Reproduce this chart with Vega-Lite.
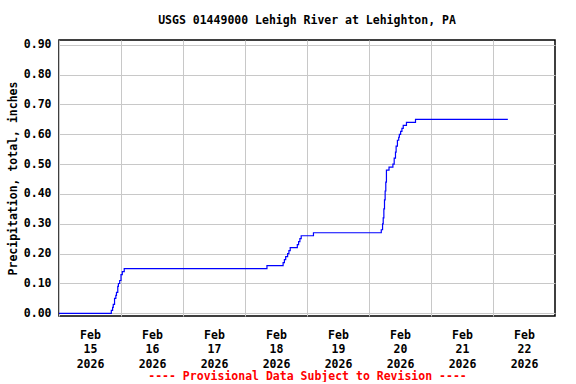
{
  "$schema": "https://vega.github.io/schema/vega-lite/v6.json",
  "width": 496,
  "height": 276,
  "padding": {"left": 7, "top": 15, "right": 20, "bottom": 0},
  "background": "white",
  "config": {
    "font": "DejaVu Sans Mono",
    "view": {"stroke": "black", "strokeWidth": 1.5},
    "axis": {"labelFont": "DejaVu Sans Mono", "labelFontWeight": "bold", "labelFontSize": 11.5, "labelColor": "black", "titleFont": "DejaVu Sans Mono", "titleFontWeight": "bold", "titleFontSize": 11.5, "gridColor": "#c8c8c8", "gridOpacity": 1, "gridWidth": 1, "ticks": false, "domain": false}
  },
  "title": {"text": "USGS 01449000 Lehigh River at Lehighton, PA", "font": "DejaVu Sans Mono", "fontWeight": "bold", "fontSize": 11.5, "color": "black", "anchor": "middle", "frame": "group", "offset": 12},
  "data": {"values": [
    {"t": "2026-02-15T00:00Z", "v": 0.00},
    {"t": "2026-02-15T20:15Z", "v": 0.01},
    {"t": "2026-02-15T20:45Z", "v": 0.02},
    {"t": "2026-02-15T21:00Z", "v": 0.03},
    {"t": "2026-02-15T21:30Z", "v": 0.05},
    {"t": "2026-02-15T22:00Z", "v": 0.06},
    {"t": "2026-02-15T22:15Z", "v": 0.07},
    {"t": "2026-02-15T22:45Z", "v": 0.09},
    {"t": "2026-02-15T23:00Z", "v": 0.10},
    {"t": "2026-02-15T23:30Z", "v": 0.11},
    {"t": "2026-02-16T00:00Z", "v": 0.13},
    {"t": "2026-02-16T00:30Z", "v": 0.14},
    {"t": "2026-02-16T01:15Z", "v": 0.15},
    {"t": "2026-02-18T08:30Z", "v": 0.16},
    {"t": "2026-02-18T14:45Z", "v": 0.17},
    {"t": "2026-02-18T15:15Z", "v": 0.18},
    {"t": "2026-02-18T15:45Z", "v": 0.19},
    {"t": "2026-02-18T16:30Z", "v": 0.20},
    {"t": "2026-02-18T17:00Z", "v": 0.21},
    {"t": "2026-02-18T17:30Z", "v": 0.22},
    {"t": "2026-02-18T20:15Z", "v": 0.23},
    {"t": "2026-02-18T20:45Z", "v": 0.24},
    {"t": "2026-02-18T21:15Z", "v": 0.25},
    {"t": "2026-02-18T21:45Z", "v": 0.26},
    {"t": "2026-02-19T02:30Z", "v": 0.27},
    {"t": "2026-02-20T04:45Z", "v": 0.28},
    {"t": "2026-02-20T05:15Z", "v": 0.30},
    {"t": "2026-02-20T05:30Z", "v": 0.32},
    {"t": "2026-02-20T05:45Z", "v": 0.35},
    {"t": "2026-02-20T06:00Z", "v": 0.38},
    {"t": "2026-02-20T06:15Z", "v": 0.41},
    {"t": "2026-02-20T06:30Z", "v": 0.44},
    {"t": "2026-02-20T06:45Z", "v": 0.48},
    {"t": "2026-02-20T07:45Z", "v": 0.49},
    {"t": "2026-02-20T09:15Z", "v": 0.50},
    {"t": "2026-02-20T09:45Z", "v": 0.52},
    {"t": "2026-02-20T10:15Z", "v": 0.54},
    {"t": "2026-02-20T10:30Z", "v": 0.56},
    {"t": "2026-02-20T11:00Z", "v": 0.58},
    {"t": "2026-02-20T11:30Z", "v": 0.59},
    {"t": "2026-02-20T11:45Z", "v": 0.60},
    {"t": "2026-02-20T12:15Z", "v": 0.61},
    {"t": "2026-02-20T12:45Z", "v": 0.62},
    {"t": "2026-02-20T13:15Z", "v": 0.63},
    {"t": "2026-02-20T14:30Z", "v": 0.64},
    {"t": "2026-02-20T18:00Z", "v": 0.65},
    {"t": "2026-02-22T05:45Z", "v": 0.65}
  ]},
  "mark": {"type": "line", "interpolate": "step-after", "color": "#0000ff", "strokeWidth": 1.2},
  "encoding": {
    "x": {
      "field": "t", "type": "temporal",
      "scale": {"type": "utc", "domain": [{"year": 2026, "month": 2, "date": 15, "utc": true}, {"year": 2026, "month": 2, "date": 23, "utc": true}]},
      "axis": {
        "values": [
          {"year": 2026, "month": 2, "date": 15, "utc": true},
          {"year": 2026, "month": 2, "date": 16, "utc": true},
          {"year": 2026, "month": 2, "date": 17, "utc": true},
          {"year": 2026, "month": 2, "date": 18, "utc": true},
          {"year": 2026, "month": 2, "date": 19, "utc": true},
          {"year": 2026, "month": 2, "date": 20, "utc": true},
          {"year": 2026, "month": 2, "date": 21, "utc": true},
          {"year": 2026, "month": 2, "date": 22, "utc": true}
        ],
        "labelExpr": "[utcFormat(datum.value, '%b'), utcFormat(datum.value, '%d'), utcFormat(datum.value, '%Y')]",
        "labelOffset": 31,
        "labelPadding": 13,
        "labelLineHeight": 14.5,
        "labelBaseline": "top",
        "labelAlign": "center",
        "labelOverlap": false,
        "labelFlush": false,
        "title": "---- Provisional Data Subject to Revision ----",
        "titleColor": "#ff0000",
        "titlePadding": 1
      }
    },
    "y": {
      "field": "v", "type": "quantitative",
      "scale": {"domain": [-0.009, 0.916], "nice": false, "zero": false},
      "axis": {
        "values": [0, 0.1, 0.2, 0.3, 0.4, 0.5, 0.6, 0.7, 0.8, 0.9],
        "format": ".2f",
        "labelPadding": 8,
        "title": "Precipitation, total, inches",
        "titlePadding": 5
      }
    }
  }
}
